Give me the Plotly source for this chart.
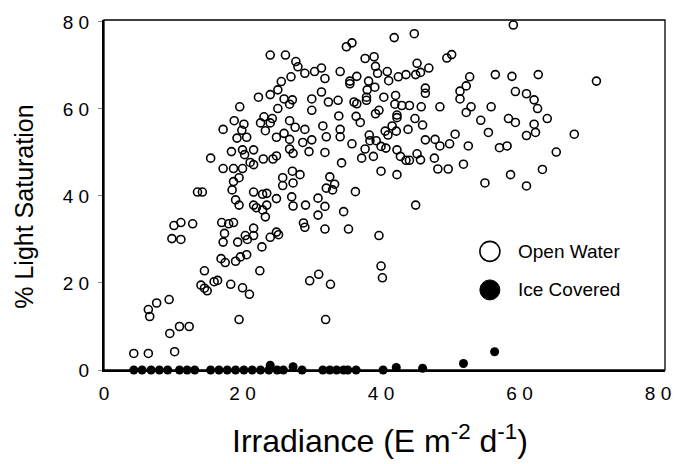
import plotly.graph_objects as go

# ---------------- data ----------------
open_water_x = [
    4.3, 6.4, 10.2, 9.5, 10.9, 12.3, 6.4, 6.6, 7.6, 9.4, 14.5, 14.0, 14.5, 14.9, 15.9, 16.4, 17.5, 19.0, 18.3, 20.0, 21.0, 19.5, 22.5,
    29.7, 31.0, 32.7, 32.0, 40.0, 40.2,
    24.0, 26.2, 27.7, 28.0, 27.0, 25.6, 25.1, 24.0, 22.3, 26.0, 27.2, 26.8, 25.1, 19.6, 18.8, 20.2, 17.2, 23.1, 24.3, 22.6,
    24.0, 26.8, 27.6, 19.9, 23.3, 26.0, 19.2, 20.6, 24.9, 26.8,
    41.9, 44.8, 35.0, 35.8, 37.7, 39.0, 39.2, 49.5, 50.2, 45.2, 46.9, 29.0, 30.4, 31.4, 31.9, 34.1, 36.5, 35.5, 35.5, 38.2,
    39.5, 40.9, 41.1, 42.5, 43.6, 45.0, 45.7, 39.1, 38.0, 37.9, 37.9, 36.5, 40.4, 42.1, 46.4, 46.4, 52.8, 52.3, 51.4, 51.4,
    53.0, 52.3, 30.0, 31.4, 32.4, 33.8, 30.0, 36.1, 42.0, 43.0, 44.1, 45.8, 48.5, 42.3, 42.3, 39.7, 39.2, 33.9, 36.4, 37.0,
    44.9, 46.0, 41.6, 29.0, 31.6, 34.1, 40.6, 42.2, 43.9, 41.0, 38.3, 32.1, 34.1, 30.0, 50.7, 46.4, 47.8,
    59.1, 56.5, 58.9, 62.7, 71.1, 59.4, 61.0, 62.1, 62.6, 55.9, 54.4, 58.4, 59.4, 64.0, 62.1, 55.5, 62.3, 61.0, 67.9,
    57.1, 58.2, 65.3, 63.3, 58.7, 55.0, 61.0,
    28.7, 35.8, 29.6, 31.9, 38.4, 39.3, 37.7, 40.0, 40.7, 37.2, 38.9, 34.3, 42.3, 42.8, 43.6, 44.1, 45.2, 45.7, 48.5, 49.9,
    52.6, 47.7, 48.2, 49.7, 51.9, 40.0, 42.3, 28.3, 32.6, 33.3, 32.1, 33.0, 36.3, 30.9, 29.1, 31.9, 30.9, 34.6, 45.0, 28.8,
    29.0, 31.9, 35.3, 39.7,
    18.4, 20.0, 21.6, 20.3, 26.8, 27.3, 15.4, 23.0, 24.4, 24.9, 17.2, 18.7, 20.0, 21.1, 21.6, 27.2, 19.5, 18.7, 25.8, 25.8,
    27.3, 13.5, 14.2, 18.5, 21.6, 22.9, 23.5, 24.9, 27.1, 19.0, 19.5, 21.6, 22.0, 23.5, 27.3, 22.9, 23.3, 10.1, 11.1, 12.8,
    9.8, 11.1, 17.0, 18.0, 18.7, 17.4, 17.2, 21.6, 20.4, 21.6, 19.3, 20.7, 24.0, 24.9, 25.2, 22.8, 20.6, 19.7, 16.9,
]
open_water_y = [
    3.8, 3.8, 4.2, 8.4, 10.0, 10.0, 13.9, 12.3, 15.4, 16.2, 22.8, 19.5, 18.8, 18.2, 20.3, 20.6, 24.7, 25.0, 19.7, 18.9, 17.4, 11.6, 22.8,
    20.5, 22.0, 19.7, 11.6, 23.9, 21.2,
    72.4, 72.4, 70.9, 69.7, 67.4, 66.3, 64.4, 63.3, 62.7, 62.3, 62.1, 61.1, 60.1, 60.5, 57.3, 56.5, 55.3, 58.2, 57.8, 56.8,
    56.8, 57.3, 55.8, 55.1, 55.0, 54.4, 53.3, 53.5, 53.5, 53.0,
    76.4, 77.3, 74.3, 75.2, 71.6, 72.0, 69.8, 71.7, 72.5, 70.5, 69.4, 68.2, 68.6, 69.4, 67.0, 68.6, 67.5, 66.4, 65.8, 66.4,
    68.2, 68.6, 66.5, 67.4, 67.9, 67.9, 68.4, 65.0, 64.4, 62.7, 62.0, 61.2, 62.7, 63.1, 64.8, 63.6, 67.4, 65.3, 64.1, 62.3,
    60.5, 59.2, 62.3, 63.9, 61.6, 62.0, 59.7, 61.6, 61.1, 60.8, 60.8, 60.5, 60.5, 58.6, 58.0, 59.7, 58.9, 58.4, 58.3, 56.9,
    57.8, 56.3, 56.1, 55.3, 56.1, 55.3, 54.9, 54.9, 55.3, 54.0, 54.0, 53.6, 53.6, 52.9, 54.2, 52.9, 53.0,
    79.3, 67.9, 67.5, 67.9, 66.4, 64.0, 63.5, 62.1, 60.1, 60.5, 57.4, 57.8, 56.9, 57.8, 56.5, 54.6, 54.6, 53.9, 54.2,
    51.1, 51.5, 50.1, 46.1, 44.9, 43.0, 42.3,
    52.3, 52.0, 50.2, 50.0, 52.7, 52.7, 50.8, 51.4, 51.0, 48.7, 49.1, 47.6, 50.6, 49.1, 48.2, 48.2, 49.7, 48.3, 51.5, 52.0,
    51.5, 48.7, 46.2, 46.2, 47.3, 45.7, 44.9, 44.9, 44.4, 42.7, 41.8, 41.4, 41.0, 39.5, 37.9, 37.6, 35.6, 36.4, 37.9, 33.8,
    32.8, 32.4, 32.4, 30.9,
    50.2, 50.6, 50.6, 49.5, 50.8, 49.8, 48.7, 48.5, 48.5, 49.2, 46.3, 46.3, 46.3, 47.7, 47.2, 45.7, 44.2, 43.3, 44.2, 42.4,
    43.0, 40.9, 40.9, 41.4, 40.9, 40.4, 40.6, 39.4, 39.8, 39.1, 37.9, 37.9, 37.3, 37.9, 37.7, 36.8, 35.2, 33.2, 33.9, 33.6,
    30.2, 30.0, 33.9, 33.6, 33.9, 31.4, 29.4, 32.6, 30.9, 30.9, 29.4, 30.0, 30.5, 31.7, 31.1, 28.3, 26.5, 26.0, 25.6,
]

ice_covered_x = [4.3, 5.5, 6.8, 8.0, 9.2, 10.9, 12.0, 13.1, 15.4, 16.6, 17.8, 19.0, 20.2, 21.4, 22.6, 23.8,
                 24.0, 25.0, 25.9, 27.3, 28.6, 31.6, 32.6, 33.6, 34.6, 35.2, 36.4, 40.3, 42.2, 46.0, 51.9, 56.4]
ice_covered_y = [0, 0, 0, 0, 0, 0, 0, 0, 0, 0, 0, 0, 0, 0, 0, 0,
                 1.1, 0, 0, 0.75, 0, 0, 0, 0, 0, 0, 0, 0, 0.6, 0.4, 1.5, 4.2]

x_tick_values = [0, 20, 40, 60, 80]
x_tick_labels = ["0", "2 0", "4 0", "6 0", "8 0"]
y_tick_values = [0, 20, 40, 60, 80]
y_tick_labels = ["0", "2 0", "4 0", "6 0", "8 0"]
series_names = ["Open Water", "Ice Covered"]
x_title = "Irradiance (E m<sup>-2</sup> d<sup>-1</sup>)"
y_title = "% Light Saturation"

FONT = "Liberation Sans, Arial, Helvetica, sans-serif"

fig = go.Figure()
fig.add_trace(go.Scatter(
    x=open_water_x, y=open_water_y, mode="markers", name=series_names[0],
    marker=dict(symbol="circle-open", size=8, color="black", line=dict(width=1.6)),
    cliponaxis=False))
fig.add_trace(go.Scatter(
    x=ice_covered_x, y=ice_covered_y, mode="markers", name=series_names[1],
    marker=dict(symbol="circle", size=9, color="black"),
    cliponaxis=False))

fig.update_layout(
    width=683, height=464,
    margin=dict(l=104, r=12, t=16, b=94),
    paper_bgcolor="white", plot_bgcolor="white",
    showlegend=False,
    font=dict(family=FONT, color="black"),
)
fig.update_xaxes(
    range=[0, 81], tickmode="array", tickvals=x_tick_values, ticktext=x_tick_labels,
    showgrid=False, zeroline=False, showline=True, linecolor="black", linewidth=2,
    ticks="", tickfont=dict(size=19, family=FONT, color="black"), ticklabelstandoff=5,
)
fig.update_yaxes(
    range=[0, 80.45], tickmode="array", tickvals=y_tick_values, ticktext=y_tick_labels,
    showgrid=False, zeroline=False, showline=True, linecolor="black", linewidth=2,
    ticks="outside", ticklen=4, tickwidth=1, tickcolor="#888888",
    tickfont=dict(size=19, family=FONT, color="black"), ticklabelstandoff=5,
)

# frame (top & right)
fig.add_shape(type="rect", xref="paper", yref="paper", x0=0, x1=1, y0=0, y1=1,
              line=dict(color="black", width=1.3), fillcolor="rgba(0,0,0,0)", layer="above")

# legend drawn manually (large symbols)
W, H = 567.0, 354.0
def px_x(p):
    return (p - 104) / W
def px_y(p):
    return (370 - p) / H

leg_rows = [250, 289]
fig.add_shape(type="circle", xref="paper", yref="paper", xsizemode="pixel", ysizemode="pixel",
              xanchor=px_x(494), yanchor=px_y(leg_rows[0]), x0=-10, x1=10, y0=-10, y1=10,
              line=dict(color="black", width=1.6), fillcolor="white")
fig.add_shape(type="circle", xref="paper", yref="paper", xsizemode="pixel", ysizemode="pixel",
              xanchor=px_x(494), yanchor=px_y(leg_rows[1]), x0=-10, x1=10, y0=-10, y1=10,
              line=dict(color="black", width=1), fillcolor="black")
for name, row in zip(series_names, leg_rows):
    fig.add_annotation(text=name, xref="paper", yref="paper", x=px_x(520), y=px_y(row),
                       xanchor="left", yanchor="middle", showarrow=False,
                       font=dict(size=19, family=FONT, color="black"))

# axis titles
fig.add_annotation(text=y_title, xref="paper", yref="paper", x=px_x(23), y=px_y(205),
                   xanchor="center", yanchor="middle", textangle=-90, showarrow=False,
                   font=dict(size=25, family=FONT, color="black"))
fig.add_annotation(text=x_title, xref="paper", yref="paper", x=px_x(383), y=px_y(440),
                   xanchor="center", yanchor="middle", showarrow=False,
                   font=dict(size=32, family=FONT, color="black"))

fig.write_html("out.html",
               config={"displayModeBar": False},
               post_script="document.body.style.margin='0';document.body.style.padding='0';"
                           "document.body.style.overflow='hidden';")
